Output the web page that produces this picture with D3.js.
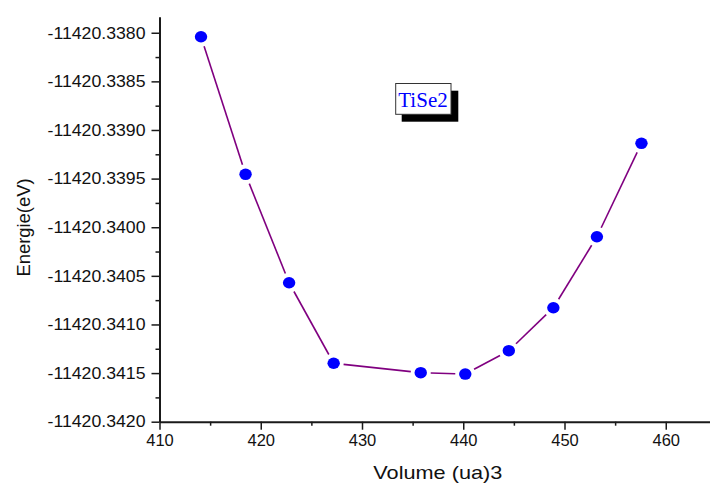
<!DOCTYPE html>
<html>
<head>
<meta charset="utf-8">
<script src="https://cdn.jsdelivr.net/npm/d3@7"></script>
<style>
  html, body { margin: 0; padding: 0; background: #fff; }
  svg { display: block; }
</style>
</head>
<body>
<svg id="chart" width="710" height="489"></svg>
<script>
// ---- data ----
const volume = [414.1, 418.5, 422.8, 427.2, 435.8, 440.2, 444.5, 448.9, 453.2, 457.6];
const energy = [-11420.338041, -11420.339456, -11420.340571, -11420.341399, -11420.341496,
                -11420.341510, -11420.341270, -11420.340828, -11420.340098, -11420.339137];
const xTickValues = [410, 420, 430, 440, 450, 460];
const xMinorValues = [415, 425, 435, 445, 455];
const yTickValues = [-11420.3380, -11420.3385, -11420.3390, -11420.3395, -11420.3400,
                     -11420.3405, -11420.3410, -11420.3415, -11420.3420];
const yTickLabels = ["-11420.3380", "-11420.3385", "-11420.3390", "-11420.3395", "-11420.3400",
                     "-11420.3405", "-11420.3410", "-11420.3415", "-11420.3420"];
const yMinorValues = [-11420.33825, -11420.33875, -11420.33925, -11420.33975, -11420.34025,
                      -11420.34075, -11420.34125, -11420.34175];
const legendLabel = "TiSe2";
const xTitle = "Volume (ua)3";
const yTitle = "Energie(eV)";

// ---- scales ----
const svg = d3.select("#chart");
const x = d3.scaleLinear().domain([410, 464.37]).range([159.5, 710]);
const y = d3.scaleLinear().domain([-11420.3420, -11420.337835]).range([421.7, 16.7]);

const axisColor = "#1a1a1a";
const tickFont = "'Liberation Sans', Arial, sans-serif";

// ---- y axis ----
const gy = svg.append("g").attr("transform", `translate(${x(410)},0)`);
gy.call(d3.axisLeft(y).tickValues(yTickValues).tickSize(8).tickPadding(6)
  .tickSizeOuter(0).tickFormat((d, i) => yTickLabels[i]));
gy.select(".domain").attr("stroke", axisColor).attr("stroke-width", 2);
gy.selectAll(".tick line").attr("stroke", axisColor).attr("stroke-width", 1.5);
gy.selectAll(".tick text").attr("fill", "#111").attr("font-family", tickFont)
  .attr("font-size", 16.5).attr("textLength", 98).attr("lengthAdjust", "spacingAndGlyphs");
const gyMinor = svg.append("g").attr("transform", `translate(${x(410)},0)`);
gyMinor.call(d3.axisLeft(y).tickValues(yMinorValues).tickSize(4).tickFormat("").tickSizeOuter(0));
gyMinor.select(".domain").remove();
gyMinor.selectAll(".tick line").attr("stroke", axisColor).attr("stroke-width", 1.5);

// ---- x axis ----
const gx = svg.append("g").attr("transform", `translate(0,${y(-11420.3420)})`);
gx.call(d3.axisBottom(x).tickValues(xTickValues).tickSize(8).tickPadding(5).tickSizeOuter(0)
  .tickFormat(d3.format("d")));
gx.select(".domain").attr("stroke", axisColor).attr("stroke-width", 2);
gx.selectAll(".tick line").attr("stroke", axisColor).attr("stroke-width", 1.5);
gx.selectAll(".tick text").attr("fill", "#111").attr("font-family", tickFont).attr("font-size", 16.5);
const gxMinor = svg.append("g").attr("transform", `translate(0,${y(-11420.3420)})`);
gxMinor.call(d3.axisBottom(x).tickValues(xMinorValues).tickSize(4).tickFormat("").tickSizeOuter(0));
gxMinor.select(".domain").remove();
gxMinor.selectAll(".tick line").attr("stroke", axisColor).attr("stroke-width", 1.5);

// ---- titles ----
svg.append("text").attr("x", 437.8).attr("y", 479).attr("text-anchor", "middle")
  .attr("font-family", tickFont).attr("font-size", 19).attr("fill", "#111")
  .attr("textLength", 129).attr("lengthAdjust", "spacingAndGlyphs").text(xTitle);
svg.append("text").attr("transform", "translate(30,227.5) rotate(-90)").attr("text-anchor", "middle")
  .attr("font-family", tickFont).attr("font-size", 18).attr("fill", "#111")
  .attr("textLength", 98).attr("lengthAdjust", "spacingAndGlyphs").text(yTitle);

// ---- line segments with gaps around markers ----
const pts = volume.map((v, i) => [x(v), y(energy[i])]);
const gap = 10;
const segs = [];
for (let i = 0; i < pts.length - 1; i++) {
  const [x1, y1] = pts[i], [x2, y2] = pts[i + 1];
  const dx = x2 - x1, dy = y2 - y1, L = Math.hypot(dx, dy);
  if (L <= 2 * gap) continue;
  const ux = dx / L, uy = dy / L;
  segs.push([x1 + ux * gap, y1 + uy * gap, x2 - ux * gap, y2 - uy * gap]);
}
svg.append("g").selectAll("line").data(segs).join("line")
  .attr("x1", d => d[0]).attr("y1", d => d[1]).attr("x2", d => d[2]).attr("y2", d => d[3])
  .attr("stroke", "#800080").attr("stroke-width", 1.6);

// ---- markers ----
svg.append("g").selectAll("ellipse").data(volume).join("ellipse")
  .attr("cx", d => x(d)).attr("cy", (d, i) => y(energy[i]))
  .attr("rx", 6.2).attr("ry", 5.8).attr("fill", "#0000ff");

// ---- legend box ----
const lg = svg.append("g");
lg.append("rect").attr("x", 401.7).attr("y", 90.7).attr("width", 56.6).attr("height", 31).attr("fill", "#000");
lg.append("rect").attr("x", 395.7).attr("y", 83.5).attr("width", 55.3).attr("height", 30.8)
  .attr("fill", "#fff").attr("stroke", "#333").attr("stroke-width", 1);
lg.append("text").attr("x", 423).attr("y", 107).attr("text-anchor", "middle")
  .attr("font-family", "'Liberation Serif', 'Times New Roman', serif").attr("font-size", 21)
  .attr("fill", "#0000ff").text(legendLabel);
</script>
</body>
</html>
